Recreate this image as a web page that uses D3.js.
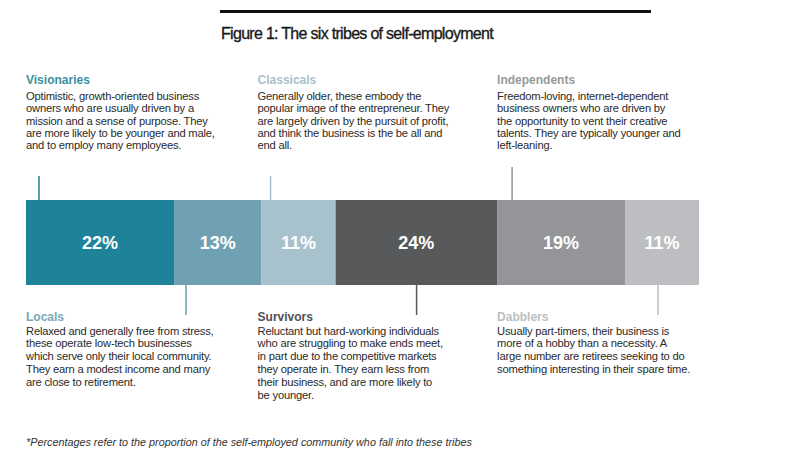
<!DOCTYPE html>
<html>
<head>
<meta charset="utf-8">
<script src="https://cdn.jsdelivr.net/npm/d3@7"></script>
<style>
  body { margin: 0; background: #fff; }
  svg { display: block; font-family: "Liberation Sans", Arial, sans-serif; }
</style>
</head>
<body>
<div id="chart"></div>
<script>
// data
const title = 'Figure 1: The six tribes of self-employment'
const tribes = ['Visionaries', 'Locals', 'Classicals', 'Survivors', 'Independents', 'Dabblers']
const shares = [22, 13, 11, 24, 19, 11]
const placement = ['top', 'bottom', 'top', 'bottom', 'top', 'bottom']
const descriptions = [
  ['Optimistic, growth-oriented business', 'owners who are usually driven by a',
    'mission and a sense of purpose. They', 'are more likely to be younger and male,',
    'and to employ many employees.'],
  ['Relaxed and generally free from stress,', 'these operate low-tech businesses',
    'which serve only their local community.', 'They earn a modest income and many',
    'are close to retirement.'],
  ['Generally older, these embody the', 'popular image of the entrepreneur. They',
    'are largely driven by the pursuit of profit,', 'and think the business is the be all and',
    'end all.'],
  ['Reluctant but hard-working individuals', 'who are struggling to make ends meet,',
    'in part due to the competitive markets', 'they operate in. They earn less from',
    'their business, and are more likely to', 'be younger.'],
  ['Freedom-loving, internet-dependent', 'business owners who are driven by',
    'the opportunity to vent their creative', 'talents. They are typically younger and',
    'left-leaning.'],
  ['Usually part-timers, their business is', 'more of a hobby than a necessity. A',
    'large number are retirees seeking to do', 'something interesting in their spare time.']
]
const footnote = '*Percentages refer to the proportion of the self-employed community who fall into these tribes'

// styles / layout
const colors = ['#1e8398', '#6fa1b3', '#a7c1cd', '#58595b', '#939598', '#bdbec1']
const headColors = ['#3a8fa4', '#7aa8b9', '#a9c1cc', '#505153', '#98999b', '#bdbec1']
const connectorOffset = [13, 12, 9, 81, 15, 33]
const width = 800
const height = 472
const barTop = 200
const barBottom = 285

const svg = d3.select('#chart').append('svg')
  .attr('width', width)
  .attr('height', height)

svg.append('rect').attr('width', width).attr('height', height).attr('fill', '#fff')

// title + rule
svg.append('line')
  .attr('x1', 220).attr('x2', 651)
  .attr('y1', 11.5).attr('y2', 11.5)
  .attr('stroke', '#111').attr('stroke-width', 3)

svg.append('text')
  .attr('x', 221).attr('y', 39)
  .attr('font-size', 16)
  .attr('letter-spacing', -0.7)
  .attr('fill', '#1a1a1a')
  .attr('stroke', '#1a1a1a')
  .attr('stroke-width', 0.35)
  .text(title)

const x = d3.scaleLinear().domain([0, d3.sum(shares)]).range([26, 699])

const starts = d3.cumsum([0].concat(shares)).slice(0, shares.length)
const segs = tribes.map((name, i) => ({
  name, share: shares[i], start: starts[i], side: placement[i], lines: descriptions[i], i
}))
const color = d3.scaleOrdinal(tribes, colors)
const headColor = d3.scaleOrdinal(tribes, headColors)

// stacked bar
const bar = svg.append('g')
bar.selectAll('rect')
  .data(segs)
  .join('rect')
  .attr('x', d => x(d.start))
  .attr('width', d => x(d.start + d.share) - x(d.start))
  .attr('y', barTop)
  .attr('height', barBottom - barTop)
  .attr('fill', d => color(d.name))

bar.selectAll('text')
  .data(segs)
  .join('text')
  .attr('x', d => x(d.start + d.share / 2))
  .attr('y', (barTop + barBottom) / 2 + 6.5)
  .attr('text-anchor', 'middle')
  .attr('font-size', 18)
  .attr('font-weight', 'bold')
  .attr('fill', '#fff')
  .text(d => d.share + '%')

// connectors
svg.append('g').selectAll('line')
  .data(segs)
  .join('line')
  .attr('x1', d => x(d.start) + connectorOffset[d.i])
  .attr('x2', d => x(d.start) + connectorOffset[d.i])
  .attr('y1', d => d.side === 'top' ? (d.name === 'Independents' ? 167 : 176) : barBottom)
  .attr('y2', d => d.side === 'top' ? barTop : 315)
  .attr('stroke', d => color(d.name))
  .attr('stroke-width', 1.5)

// text blocks: three columns, starting at the top tribes' segments
const colX = d => x(starts[Math.floor(d.i / 2) * 2]) - (d.i >= 2 && d.i < 4 ? 4 : 0)

const blocks = svg.append('g').selectAll('g')
  .data(segs)
  .join('g')
  .attr('transform', d => `translate(${colX(d)},${d.side === 'top' ? 83.5 : 320.5})`)

blocks.append('text')
  .attr('font-size', 12)
  .attr('font-weight', 'bold')
  .attr('fill', d => headColor(d.name))
  .text(d => d.name)

blocks.append('text')
  .attr('font-size', 11.2)
  .attr('letter-spacing', -0.2)
  .attr('fill', '#2a2a2a')
  .selectAll('tspan')
  .data(d => d.lines.map((t, k) => ({t, k, side: d.side})))
  .join('tspan')
  .attr('x', 0)
  .attr('y', d => (d.side === 'top' ? 16.5 : 14) + d.k * (d.side === 'top' ? 12.3 : 12.8))
  .text(d => d.t)

svg.append('text')
  .attr('x', 26).attr('y', 445.5)
  .attr('font-size', 10.8)
  .attr('font-style', 'italic')
  .attr('fill', '#333')
  .text(footnote)
</script>
</body>
</html>
